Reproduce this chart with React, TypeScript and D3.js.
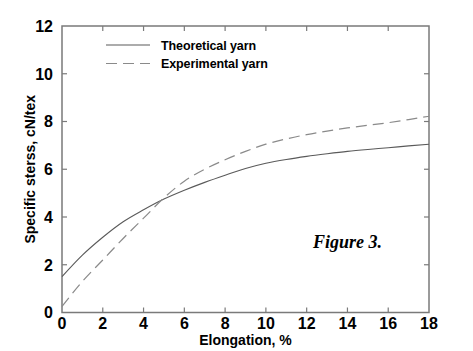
import { useEffect, useRef } from "react";
import * as d3 from "d3";

// elongation, %
const elongation = [0, 1, 2, 3, 4, 5, 6, 7, 8, 9, 10, 11, 12, 13, 14, 15, 16, 17, 18];
// specific stress, cN/tex
const theoretical = [1.5, 2.4, 3.15, 3.8, 4.3, 4.75, 5.12, 5.45, 5.75, 6.03, 6.25, 6.41, 6.54, 6.65, 6.75, 6.83, 6.9, 6.98, 7.05];
const experimental = [0.25, 1.3, 2.2, 3.1, 3.95, 4.8, 5.5, 6.0, 6.4, 6.75, 7.05, 7.27, 7.45, 7.6, 7.73, 7.84, 7.95, 8.08, 8.22];

const xTicks = [0, 2, 4, 6, 8, 10, 12, 14, 16, 18];
const yTicks = [0, 2, 4, 6, 8, 10, 12];
const seriesNames = ["Theoretical yarn", "Experimental yarn"];

const W = 473;
const H = 351;

export default function App() {
  const svgRef = useRef<SVGSVGElement>(null);

  useEffect(() => {
    if (!svgRef.current) return;
    const svg = d3.select(svgRef.current);
    svg.selectAll("*").remove();

    const left = 62, right = 429, top = 26, bottom = 312.5;
    const x = d3.scaleLinear().domain([0, 18]).range([left, right]);
    const y = d3.scaleLinear().domain([0, 12]).range([bottom, top]);
    const axisColor = "#7a7a7a";
    const font = "'Liberation Sans', Arial, sans-serif";

    // frame
    svg.append("rect")
      .attr("x", left).attr("y", top)
      .attr("width", right - left).attr("height", bottom - top)
      .attr("fill", "none").attr("stroke", axisColor).attr("stroke-width", 1.5);

    // inward ticks on all four sides
    const tl = 5;
    const g = svg.append("g").attr("stroke", axisColor).attr("stroke-width", 1.2);
    xTicks.slice(1, -1).forEach((t) => {
      g.append("line").attr("x1", x(t)).attr("x2", x(t)).attr("y1", bottom).attr("y2", bottom - tl);
      g.append("line").attr("x1", x(t)).attr("x2", x(t)).attr("y1", top).attr("y2", top + tl);
    });
    yTicks.slice(1, -1).forEach((t) => {
      g.append("line").attr("x1", left).attr("x2", left + tl).attr("y1", y(t)).attr("y2", y(t));
      g.append("line").attr("x1", right).attr("x2", right - tl).attr("y1", y(t)).attr("y2", y(t));
    });

    // tick labels
    svg.append("g").selectAll("text").data(xTicks).join("text")
      .attr("x", (d) => x(d)).attr("y", 329)
      .attr("text-anchor", "middle")
      .style("font-family", font).style("font-weight", "700").style("font-size", "16px")
      .attr("fill", "#000").text((d) => d);
    svg.append("g").selectAll("text").data(yTicks).join("text")
      .attr("x", 53).attr("y", (d) => y(d)).attr("dy", "0.36em")
      .attr("text-anchor", "end")
      .style("font-family", font).style("font-weight", "700").style("font-size", "16px")
      .attr("fill", "#000").text((d) => d);

    // axis titles
    svg.append("text")
      .attr("x", (left + right) / 2).attr("y", 345)
      .attr("text-anchor", "middle")
      .style("font-family", font).style("font-weight", "700").style("font-size", "14px")
      .text("Elongation, %");
    svg.append("text")
      .attr("transform", `translate(35,${(top + bottom) / 2}) rotate(-90)`)
      .attr("text-anchor", "middle")
      .style("font-family", font).style("font-weight", "700").style("font-size", "14px")
      .text("Specific sterss, cN/tex");

    // curves
    const line = d3.line<number>()
      .x((_, i) => x(elongation[i]))
      .y((d) => y(d))
      .curve(d3.curveMonotoneX);

    svg.append("path").datum(theoretical)
      .attr("d", line).attr("fill", "none")
      .attr("stroke", "#5a5a5a").attr("stroke-width", 1.1);
    svg.append("path").datum(experimental)
      .attr("d", line).attr("fill", "none")
      .attr("stroke", "#8a8a8a").attr("stroke-width", 1.2)
      .attr("stroke-dasharray", "11,6");

    // legend
    const legend = svg.append("g");
    seriesNames.forEach((name, i) => {
      const ly = 45 + i * 18.5;
      legend.append("line")
        .attr("x1", 106).attr("x2", 150).attr("y1", ly).attr("y2", ly)
        .attr("stroke", i === 0 ? "#5a5a5a" : "#8a8a8a").attr("stroke-width", 1.1)
        .attr("stroke-dasharray", i === 0 ? null : "11,6");
      legend.append("text")
        .attr("x", 161).attr("y", ly).attr("dy", "0.36em")
        .style("font-family", font).style("font-weight", "700").style("font-size", "12.5px")
        .style("letter-spacing", "-0.1px")
        .text(name);
    });

    // caption
    svg.append("text")
      .attr("x", 313).attr("y", 248)
      .style("font-family", "'Liberation Serif', 'Times New Roman', serif")
      .style("font-weight", "700").style("font-style", "italic").style("font-size", "18px")
      .text("Figure 3.");
  }, []);

  return (
    <svg
      ref={svgRef}
      width={W}
      height={H}
      style={{ position: "fixed", left: 0, top: 0, background: "#fff", display: "block" }}
      role="img"
      aria-label="Specific stress vs elongation"
    />
  );
}
